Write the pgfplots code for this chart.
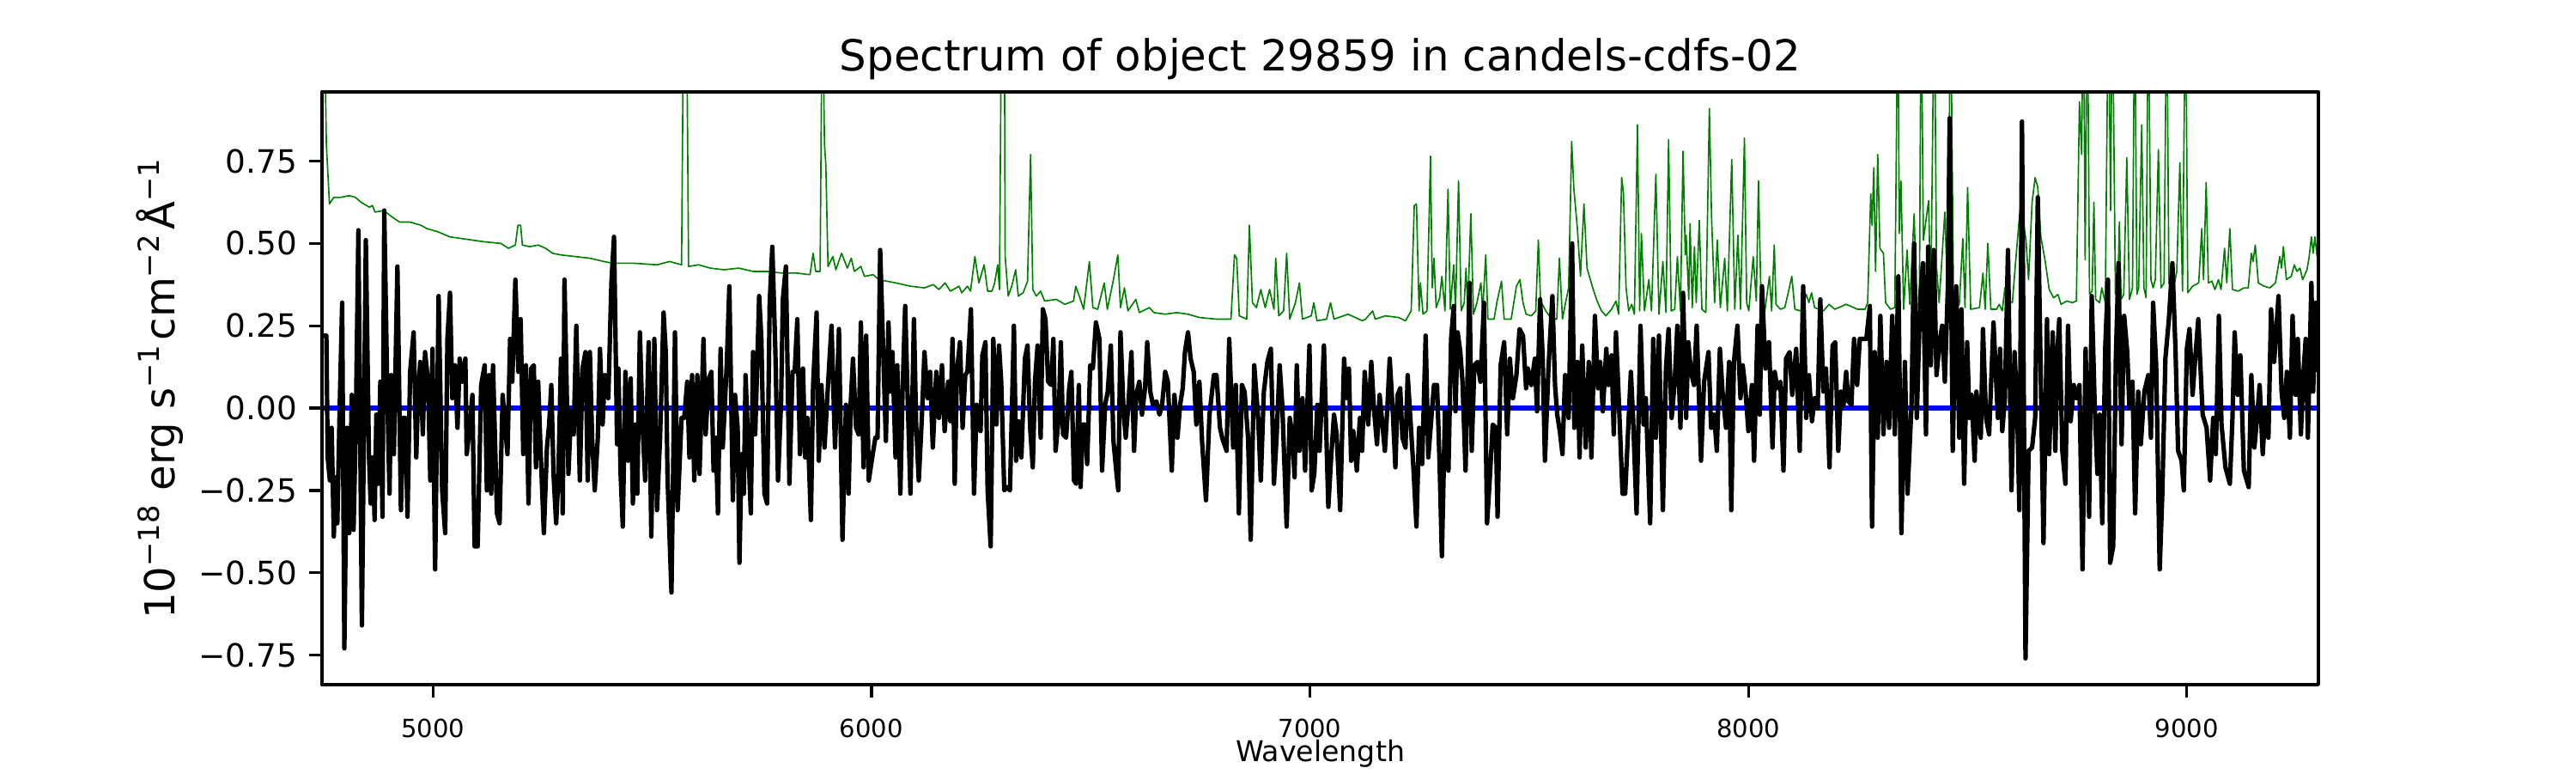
\documentclass[border=0pt]{standalone}
\usepackage{fontspec}
\setmainfont{DejaVu Sans}
\usepackage{pgfplots}
\pgfplotsset{compat=1.18}
\definecolor{mplgreen}{HTML}{008000}
\begin{document}
\begin{tikzpicture}
\path[use as bounding box] (-1.25in,-0.3433in) rectangle (8.75in,2.6567in);
\begin{axis}[
  at={(0,0)}, anchor=south west,
  width=7.75in, height=2.3in, scale only axis,
  xmin=4747, xmax=9300, ymin=-0.84, ymax=0.96,
  axis line style={line width=0.8pt},
  every tick/.style={black, line width=0.8pt},
  tick align=outside, major tick length=3.5pt,
  xtick pos=left, ytick pos=left,
  xtick={5000,6000,7000,8000,9000},
  xticklabels={5000,6000,7000,8000,9000},
  ytick={-0.75,-0.5,-0.25,0,0.25,0.5,0.75},
  yticklabels={−0.75,−0.50,−0.25,0.00,0.25,0.50,0.75},
  xticklabel style={font=\fontsize{7}{8}\selectfont, yshift=-2.5pt},
  yticklabel style={font=\fontsize{9}{10}\selectfont},
  title={Spectrum of object 29859 in candels-cdfs-02},
  title style={font=\fontsize{12}{14}\selectfont, at={(axis description cs:0.5,1)}, anchor=base},
  xlabel={Wavelength},
  every axis x label/.style={font=\fontsize{8}{9}\selectfont, at={(axis description cs:0.5,0)}, anchor=base, yshift=-21.5pt},
  ylabel={10\textsuperscript{−18} erg s\textsuperscript{−1}\kern0.8pt cm\textsuperscript{−2}\kern0.8pt Å\textsuperscript{−1}},
  every axis y label/.style={font=\fontsize{11.6}{14}\selectfont, at={(axis description cs:-0.0737,0.5)}, rotate=90, anchor=base},
  axis on top,
  line join=round,
]
% green (noise / sky)
\addplot[mplgreen, line width=0.4pt] coordinates {
(4748,1.30) (4751,1.30) (4757,0.80) (4764,0.62) (4774,0.64) (4790,0.64) (4809,0.645) (4823,0.64) (4836,0.625) (4855,0.61) (4862,0.615) (4868,0.595) (4888,0.60) (4907,0.58) (4924,0.565) (4947,0.565) (4973,0.555) (4986,0.545) (5012,0.535) (5038,0.52) (5064,0.515) (5090,0.51) (5116,0.505) (5155,0.50) (5172,0.485) (5188,0.495) (5194,0.555) (5200,0.555) (5204,0.495) (5221,0.49) (5240,0.495) (5257,0.485) (5273,0.47) (5292,0.465) (5325,0.46) (5358,0.455) (5390,0.445) (5410,0.44) (5456,0.44) (5511,0.435)
(5540,0.445) (5567,0.435) (5572,1.30) (5578,1.30) (5583,0.43) (5606,0.435) (5632,0.425) (5664,0.42) (5697,0.425) (5730,0.415) (5762,0.415) (5795,0.41) (5828,0.41) (5860,0.405) (5867,0.47) (5873,0.415) (5883,0.415) (5888,1.30) (5893,0.80) (5896,0.74) (5901,0.43) (5912,0.46) (5919,0.42) (5932,0.47) (5945,0.425) (5954,0.455) (5961,0.415) (5976,0.43) (5984,0.40) (6004,0.405) (6017,0.39) (6036,0.385) (6056,0.38) (6089,0.37) (6121,0.365) (6141,0.375) (6154,0.36) (6168,0.38) (6180,0.355) (6200,0.37) (6206,0.35) (6219,0.37) (6226,0.355) (6236,0.46) (6245,0.38) (6257,0.435) (6265,0.355) (6275,0.355)
(6281,0.38) (6288,0.435) (6292,0.36) (6297,1.30) (6303,1.30) (6305,0.46) (6312,0.34) (6320,0.37) (6329,0.42) (6335,0.34) (6346,0.35) (6356,0.385) (6363,0.77) (6368,0.36) (6376,0.34) (6386,0.355) (6395,0.325) (6422,0.33) (6441,0.315) (6461,0.325) (6466,0.37) (6474,0.34) (6484,0.30) (6497,0.445) (6505,0.305) (6516,0.30) (6531,0.38) (6538,0.30) (6552,0.39) (6562,0.465) (6568,0.305) (6577,0.365) (6585,0.295) (6603,0.33) (6611,0.29) (6634,0.305) (6644,0.29) (6670,0.285) (6696,0.29) (6722,0.285) (6748,0.275) (6787,0.27) (6820,0.27) (6828,0.465) (6833,0.455) (6839,0.28) (6856,0.27) (6862,0.555) (6869,0.32) (6878,0.305) (6888,0.36) (6898,0.305) (6908,0.36) (6918,0.30) (6922,0.455) (6929,0.28) (6940,0.295) (6947,0.47) (6954,0.27) (6967,0.32) (6976,0.38) (6983,0.27) (7003,0.28) (7009,0.32) (7016,0.265) (7038,0.27)
(7047,0.32) (7055,0.27) (7087,0.285) (7120,0.265) (7127,0.27) (7143,0.295) (7149,0.27) (7172,0.28) (7202,0.275) (7218,0.265) (7231,0.295) (7238,0.615) (7243,0.62) (7249,0.295) (7252,0.38) (7258,0.285) (7267,0.295) (7275,0.765) (7279,0.365) (7283,0.455) (7288,0.305) (7296,0.335) (7301,0.40) (7308,0.295) (7315,0.665) (7320,0.30) (7328,0.435) (7332,0.295) (7339,0.69) (7345,0.295) (7352,0.32) (7356,0.425) (7360,0.30) (7367,0.59) (7373,0.285) (7381,0.32) (7390,0.38) (7394,0.295) (7401,0.465) (7406,0.27) (7420,0.27) (7427,0.325) (7437,0.385) (7443,0.27) (7459,0.27) (7471,0.37) (7479,0.39) (7486,0.32) (7493,0.285) (7505,0.28) (7515,0.295) (7521,0.51) (7526,0.325) (7538,0.295) (7551,0.27) (7563,0.27) (7569,0.455) (7576,0.27) (7583,0.32) (7590,0.365) (7597,0.81) (7602,0.665) (7610,0.545) (7617,0.40) (7625,0.62) (7632,0.425) (7645,0.365) (7655,0.325) (7665,0.295) (7675,0.28) (7688,0.30) (7698,0.325) (7704,0.285) (7711,0.70) (7715,0.655) (7721,0.365) (7727,0.295) (7734,0.315) (7740,0.285) (7747,0.86) (7752,0.295) (7756,0.53) (7763,0.295) (7773,0.39) (7779,0.295) (7789,0.71) (7796,0.285)
(7805,0.445) (7812,0.29) (7818,0.815) (7824,0.295) (7832,0.30) (7838,0.46) (7845,0.295) (7851,0.78) (7856,0.465) (7858,0.525) (7864,0.33) (7867,0.56) (7872,0.305) (7877,0.49) (7881,0.32) (7888,0.57) (7894,0.30) (7903,0.29) (7911,0.91) (7916,0.58) (7923,0.32) (7929,0.51) (7936,0.305) (7946,0.455) (7952,0.295) (7962,0.755) (7969,0.30) (7976,0.525) (7982,0.30) (7991,0.82) (7996,0.32) (8001,0.295) (8011,0.46) (8018,0.325) (8023,0.69) (8029,0.315) (8037,0.29) (8048,0.40) (8053,0.295) (8059,0.495) (8063,0.315) (8073,0.30) (8083,0.305) (8090,0.345) (8099,0.40) (8106,0.30) (8119,0.295) (8132,0.345) (8138,0.32) (8144,0.35) (8151,0.305) (8171,0.295) (8184,0.315) (8197,0.30) (8223,0.315) (8249,0.30) (8266,0.30) (8272,0.32) (8279,0.65) (8282,0.555) (8286,0.73) (8290,0.415) (8295,0.77) (8300,0.485) (8308,0.47) (8313,0.32) (8324,0.30) (8334,0.305) (8341,1.30) (8344,0.53) (8348,0.69) (8354,0.30) (8362,0.48) (8368,0.315) (8378,0.59) (8384,0.315) (8390,0.315) (8394,1.30) (8399,0.51) (8411,0.63) (8416,0.32) (8424,1.30) (8429,0.43) (8435,0.32) (8448,0.595) (8455,0.315) (8461,1.30) (8468,0.30) (8481,0.315) (8489,0.515) (8494,0.305) (8500,0.67) (8507,0.30) (8527,0.305) (8535,0.41) (8540,0.30) (8546,0.50) (8553,0.30) (8566,0.30)
(8572,0.315) (8579,0.295) (8585,0.365) (8592,0.325) (8602,0.32) (8611,0.47) (8621,0.625) (8633,0.51) (8639,0.39) (8647,0.625) (8654,0.70) (8660,0.67) (8667,0.52) (8677,0.445) (8686,0.36) (8696,0.335) (8706,0.345) (8713,0.315) (8726,0.325) (8739,0.32) (8748,0.325) (8755,0.93) (8760,0.77) (8764,1.30) (8768,0.45) (8773,1.30) (8778,0.345) (8784,0.355) (8788,0.625) (8792,0.33) (8801,0.32) (8806,0.365) (8814,0.32) (8821,1.30) (8826,0.60) (8830,1.30) (8837,0.345) (8843,0.39) (8846,0.565) (8850,0.33) (8856,0.345) (8863,0.76) (8869,0.33) (8876,0.365) (8881,1.30) (8886,0.345) (8890,0.365) (8897,0.86) (8902,0.365) (8907,0.335) (8912,1.30) (8918,0.39) (8923,0.365) (8928,0.39) (8935,0.785) (8941,0.365) (8948,0.38) (8954,1.30) (8959,0.38) (8967,0.345) (8977,0.415) (8984,0.745) (8990,0.355) (8997,1.30) (9002,0.35) (9013,0.37) (9027,0.38) (9034,0.545) (9038,0.39) (9044,0.685) (9049,0.38) (9057,0.385) (9064,0.36) (9072,0.39) (9078,0.36) (9086,0.485) (9091,0.38) (9098,0.545) (9104,0.36) (9117,0.355) (9130,0.365) (9140,0.365) (9147,0.47) (9151,0.445) (9156,0.495) (9163,0.38) (9176,0.37) (9189,0.365) (9202,0.38) (9212,0.46) (9216,0.425) (9220,0.49) (9227,0.39) (9238,0.40) (9245,0.435) (9251,0.415) (9258,0.425) (9264,0.39) (9274,0.42) (9279,0.46) (9284,0.52) (9288,0.47) (9292,0.52) (9297,0.46) (9300,0.46)
};
% zero line
\addplot[blue, line width=1.3pt] coordinates {(4747,0) (9300,0)};
% flux
\addplot[black, line width=1.25pt] coordinates {
(4751,0.22) (4757,0.22) (4760,-0.15) (4765,-0.22) (4769,-0.06) (4774,-0.39) (4778,-0.21) (4782,-0.35) (4787,-0.02) (4793,0.32) (4798,-0.73) (4804,-0.06) (4809,-0.38) (4815,0.04) (4819,-0.37) (4824,-0.06) (4830,0.54) (4838,-0.66) (4847,0.51) (4854,-0.14) (4858,-0.29) (4863,-0.15) (4867,-0.34) (4871,-0.02) (4876,-0.23) (4880,0.08) (4885,-0.33) (4889,0.60) (4896,0.04) (4901,-0.26) (4905,0.10) (4911,-0.14) (4919,0.43) (4927,-0.31) (4932,-0.03) (4937,-0.03) (4942,-0.33) (4948,0.11) (4956,0.23) (4962,-0.15) (4966,0.04) (4971,0.14) (4977,-0.08) (4982,0.17) (4989,0.08) (4994,-0.22) (4999,0.18) (5005,-0.49) (5013,0.34) (5021,-0.25) (5028,-0.38) (5033,0.21) (5039,0.35) (5044,0.03) (5050,0.13) (5056,-0.06) (5061,0.15) (5067,0.08) (5074,0.15) (5077,-0.14) (5084,-0.06) (5090,0.04) (5095,-0.42) (5102,-0.42) (5110,0.07) (5118,0.13) (5123,-0.25) (5128,0.10) (5133,-0.26) (5137,0.13) (5146,-0.32) (5152,-0.35) (5159,0.04) (5165,-0.06) (5170,-0.14) (5176,0.21) (5181,0.08) (5188,0.39) (5195,0.11) (5200,0.27) (5206,-0.14) (5212,0.13) (5218,-0.29) (5224,0.12) (5230,0.13) (5235,-0.18) (5240,0.08) (5245,-0.11) (5253,-0.38) (5260,-0.12) (5265,-0.05) (5270,0.07) (5275,-0.20) (5281,-0.35) (5286,-0.21) (5292,0.15) (5296,-0.32) (5300,0.39) (5309,-0.20) (5315,-0.01) (5321,-0.08) (5327,0.25) (5335,-0.22) (5341,0.12) (5348,0.17) (5353,-0.22) (5358,0.17) (5363,-0.09) (5369,-0.25) (5376,-0.09) (5381,0.18) (5387,-0.05) (5392,0.10) (5400,0.03) (5407,0.38) (5413,0.52) (5420,-0.11) (5423,0.12) (5428,-0.20) (5433,-0.36) (5439,0.11) (5445,-0.16) (5451,0.09) (5456,-0.29) (5461,-0.05) (5466,-0.26) (5472,0.23) (5478,-0.05) (5484,-0.22) (5492,0.20) (5498,-0.39) (5505,0.21) (5511,-0.31)
(5518,-0.09) (5526,0.29) (5531,0.17) (5535,-0.21) (5544,-0.56) (5552,0.23) (5558,-0.31) (5567,-0.03) (5573,-0.03) (5580,0.08) (5585,-0.15) (5591,0.10) (5596,-0.22) (5603,0.10) (5608,-0.20) (5617,0.21) (5622,-0.08) (5629,0.09) (5635,0.11) (5640,-0.19) (5645,-0.09) (5650,-0.32) (5656,0.18) (5661,-0.12) (5670,0.13) (5676,0.37) (5684,-0.28) (5689,0.04) (5695,-0.06) (5699,-0.47) (5704,-0.14) (5709,-0.26) (5713,0.10) (5718,-0.08) (5725,-0.32) (5730,0.17) (5735,-0.08) (5744,0.34) (5749,0.21) (5756,-0.26) (5762,-0.29) (5768,0.32) (5774,0.49) (5781,0.17) (5787,-0.22) (5794,0.02) (5798,0.33) (5805,0.43) (5813,-0.23) (5820,0.11) (5825,0.11) (5831,0.27) (5837,-0.14) (5844,0.12) (5849,-0.15) (5854,-0.03) (5862,-0.34) (5867,0.07) (5875,0.29) (5880,-0.16) (5886,0.07) (5893,-0.12) (5901,0.07) (5909,0.25) (5917,-0.12) (5926,0.24) (5934,-0.40) (5942,0.01) (5948,-0.26) (5953,0.02) (5958,0.15) (5965,-0.06) (5971,-0.08) (5976,0.26) (5982,-0.18) (5988,0.22) (5994,-0.22) (6003,-0.14) (6009,-0.09) (6014,-0.09) (6020,0.48) (6027,0.17) (6033,-0.10) (6039,0.26) (6043,0.05) (6048,0.17) (6055,-0.15) (6059,0.13) (6066,-0.26) (6071,0.05) (6077,0.31) (6082,0.06) (6089,-0.26) (6097,0.27) (6102,-0.05) (6108,-0.22) (6115,-0.03) (6121,0.17) (6128,0.03) (6134,0.11) (6140,-0.12) (6148,0.11) (6154,-0.03) (6161,0.13) (6167,-0.07) (6175,0.08) (6180,-0.04) (6185,0.21) (6190,-0.23) (6195,0.11) (6202,0.20) (6208,-0.06) (6214,0.10) (6219,0.11) (6227,0.30) (6234,-0.26) (6240,0.01) (6249,-0.07) (6253,0.16) (6260,0.20) (6265,-0.25) (6272,-0.42)
(6278,0.21) (6285,-0.05) (6291,0.19) (6296,0.08) (6303,-0.25) (6309,-0.24) (6316,-0.25) (6325,0.25) (6330,-0.16) (6335,-0.04) (6342,-0.15) (6350,0.15) (6356,0.19) (6362,-0.06) (6368,-0.18) (6373,0.08) (6379,0.19) (6386,-0.09) (6391,0.30) (6397,0.27) (6403,0.08) (6410,0.07) (6415,0.21) (6420,-0.13) (6427,-0.03) (6432,0.20) (6437,-0.08) (6444,-0.09) (6451,0.06) (6456,0.11) (6462,-0.22) (6467,-0.23) (6473,0.07) (6477,-0.24) (6482,-0.05) (6487,-0.05) (6492,-0.17) (6499,0.13) (6505,0.12) (6512,0.26) (6520,0.21) (6526,-0.19) (6533,0.01) (6539,0.05) (6546,0.19) (6552,-0.10) (6559,-0.20) (6563,-0.25) (6568,0.23) (6575,-0.01) (6580,-0.09) (6586,0.01) (6593,0.17) (6599,-0.13) (6604,0.04) (6611,0.08) (6617,-0.02) (6624,0.06) (6629,0.20) (6636,0.05) (6642,0.01) (6650,0.02) (6657,-0.02) (6663,0.01) (6670,0.11) (6676,0.08) (6685,-0.19) (6691,0.04) (6698,-0.09) (6704,0.01) (6710,0.06) (6715,0.17) (6722,0.23) (6728,0.15) (6735,0.11) (6741,-0.05) (6748,0.08) (6754,-0.10) (6763,-0.28) (6771,-0.02) (6781,0.10) (6787,0.10) (6795,-0.06) (6800,-0.09) (6810,-0.13) (6816,0.21) (6825,-0.12) (6831,0.07) (6838,-0.32) (6845,0.07) (6851,0.05) (6859,-0.09) (6865,-0.40) (6873,0.13) (6882,-0.03) (6888,-0.22) (6895,0.05) (6903,0.14) (6911,0.18) (6918,-0.23) (6924,-0.09) (6931,0.13) (6937,0.01) (6947,-0.36) (6954,-0.03) (6960,-0.08) (6965,-0.21) (6970,0.13) (6976,-0.13) (6983,0.03) (6989,-0.19) (6999,0.19) (7004,-0.25) (7010,-0.20) (7017,0.01) (7022,-0.13) (7032,0.19)
(7042,-0.30) (7048,-0.16) (7055,-0.02) (7061,-0.08) (7069,-0.31) (7078,0.15) (7084,0.03) (7089,0.12) (7094,-0.16) (7099,-0.07) (7107,-0.19) (7114,-0.03) (7119,-0.13) (7125,0.11) (7133,-0.05) (7140,0.14) (7146,0.00) (7153,-0.11) (7159,0.04) (7164,-0.03) (7171,-0.13) (7177,0.01) (7182,0.15) (7189,-0.01) (7195,-0.18) (7200,0.04) (7206,0.06) (7211,-0.09) (7218,-0.12) (7223,0.10) (7230,-0.05) (7236,-0.18) (7243,-0.36) (7249,-0.06) (7256,-0.17) (7264,0.22) (7270,-0.15) (7277,-0.03) (7283,0.07) (7290,0.07) (7296,-0.18) (7301,-0.45) (7308,-0.01) (7316,-0.19) (7322,0.21) (7328,0.31) (7332,-0.01) (7337,0.23) (7343,0.17) (7348,0.08) (7355,-0.19) (7364,0.38) (7369,-0.13) (7375,0.13) (7382,0.14) (7389,0.08) (7397,0.32) (7404,-0.35) (7410,-0.22) (7417,-0.05) (7424,-0.06) (7428,-0.33) (7435,0.13) (7443,0.20) (7450,-0.08) (7456,0.15) (7463,0.03) (7471,0.10) (7478,0.24) (7486,0.22) (7493,0.06) (7497,0.12) (7505,0.07) (7513,0.15) (7518,-0.01) (7525,0.33) (7531,0.15) (7536,-0.16) (7544,0.12) (7553,0.34) (7559,0.07) (7564,-0.02) (7570,-0.07) (7576,-0.14) (7582,0.10) (7590,-0.03) (7598,0.50) (7603,-0.06) (7610,0.14) (7615,-0.15) (7621,0.19) (7629,-0.12) (7636,0.14) (7642,-0.15) (7650,0.28) (7657,0.06) (7662,0.14) (7668,-0.01) (7676,0.18) (7681,0.07) (7688,0.16) (7693,-0.08) (7698,0.23) (7704,0.04) (7713,-0.26) (7719,-0.26) (7726,-0.06) (7732,0.11) (7737,-0.03) (7745,-0.32) (7754,0.25) (7761,-0.05) (7766,0.03) (7776,-0.35) (7783,0.21) (7789,-0.09) (7796,0.22)
(7805,-0.31) (7812,0.12) (7818,0.24) (7825,-0.03) (7832,0.08) (7838,0.25) (7845,-0.06) (7851,0.35) (7858,-0.03) (7863,0.20) (7869,0.11) (7876,0.07) (7882,0.25) (7892,-0.16) (7899,0.08) (7909,0.17) (7915,-0.06) (7922,-0.02) (7928,-0.13) (7935,0.18) (7941,0.05) (7949,-0.06) (7956,0.14) (7961,-0.31) (7967,0.14) (7975,0.25) (7982,0.03) (7987,0.13) (7993,0.06) (8000,-0.07) (8008,0.07) (8013,-0.16) (8021,0.25) (8026,-0.02) (8031,0.37) (8039,0.12) (8047,0.20) (8055,-0.12) (8060,0.11) (8066,0.06) (8073,0.08) (8080,-0.19) (8086,0.15) (8094,0.17) (8100,0.04) (8109,0.18) (8117,-0.13) (8125,0.37) (8132,-0.03) (8138,0.10) (8145,-0.04) (8151,0.03) (8158,0.00) (8164,0.33) (8171,0.05) (8177,0.12) (8185,-0.18) (8192,0.19) (8198,0.20) (8205,-0.13) (8211,0.05) (8217,0.01) (8223,0.11) (8228,0.02) (8235,0.01) (8241,0.21) (8248,0.07) (8254,0.21) (8260,0.21) (8269,0.21) (8277,0.31) (8282,-0.36) (8288,0.17) (8295,-0.09) (8301,0.28) (8308,-0.08) (8315,0.14) (8321,-0.06) (8328,0.28) (8334,-0.08) (8342,0.40) (8349,-0.38) (8357,0.14) (8363,-0.26) (8372,0.01) (8378,0.50) (8384,-0.03) (8392,0.34) (8398,0.44) (8405,-0.08) (8410,0.49) (8416,0.13) (8423,0.48) (8429,0.10) (8437,0.21) (8442,0.25) (8448,0.08) (8455,0.37) (8459,0.88) (8466,-0.13) (8474,0.37) (8481,-0.09) (8486,0.30) (8492,-0.23) (8499,0.20) (8504,-0.03) (8509,0.04) (8516,-0.16) (8520,0.05) (8527,-0.07) (8530,-0.09) (8535,0.24) (8542,-0.03) (8549,-0.08) (8559,0.26)
(8569,-0.03) (8574,0.18) (8579,-0.07) (8585,0.03) (8592,0.48) (8600,-0.25) (8607,0.17) (8613,0.00) (8618,-0.31) (8624,0.87) (8632,-0.76) (8639,-0.13) (8647,-0.12) (8654,-0.03) (8660,0.64) (8667,0.08) (8673,-0.41) (8681,0.27) (8686,-0.14) (8694,0.23) (8700,-0.13) (8705,0.18) (8709,0.27) (8716,-0.13) (8723,-0.23) (8729,0.25) (8735,-0.04) (8742,0.07) (8748,0.03) (8755,0.07) (8762,-0.49) (8769,0.18) (8777,-0.33) (8783,0.34) (8790,0.00) (8796,-0.20) (8801,-0.02) (8807,-0.35) (8814,0.19) (8820,0.39) (8825,-0.47) (8832,-0.42) (8838,0.15) (8844,0.44) (8851,-0.11) (8857,0.28) (8864,0.17) (8869,0.00) (8876,0.08) (8882,-0.32) (8889,0.05) (8895,-0.11) (8903,0.05) (8912,0.10) (8918,-0.09) (8923,0.32) (8930,0.13) (8938,-0.49) (8944,-0.26) (8951,0.15) (8959,0.27) (8967,0.44) (8974,0.18) (8980,-0.13) (8988,-0.16) (8993,-0.25) (9000,0.18) (9006,0.24) (9013,0.04) (9019,0.15) (9026,0.27) (9036,-0.02) (9045,-0.06) (9053,-0.22) (9060,-0.03) (9066,-0.14) (9073,0.28) (9079,-0.05) (9088,-0.18) (9098,-0.23) (9104,-0.03) (9109,0.23) (9116,0.04) (9122,0.16) (9130,-0.19) (9141,-0.24) (9147,0.10) (9154,-0.12) (9160,-0.03) (9166,0.07) (9173,-0.14) (9179,0.00) (9186,-0.09) (9192,0.30) (9199,0.14) (9209,0.34) (9216,0.05) (9222,-0.03) (9228,0.11) (9235,-0.09) (9241,0.28) (9248,0.04) (9253,0.21) (9260,-0.08) (9266,0.11) (9271,0.21) (9276,-0.09) (9284,0.38) (9288,0.05) (9294,0.32) (9299,0.11)
};
\end{axis}
\end{tikzpicture}
\end{document}
